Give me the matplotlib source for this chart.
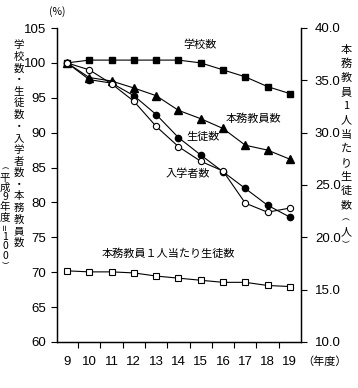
import matplotlib
matplotlib.use("Agg")
import matplotlib.pyplot as plt

plt.rcParams['font.family'] = ['Liberation Sans', 'Noto Sans CJK JP', 'DejaVu Sans']
JP = ['Noto Sans CJK JP', 'DejaVu Sans']

years = [9, 10, 11, 12, 13, 14, 15, 16, 17, 18, 19]

# left axis (平成9年度=100)
schools = [100, 100.4, 100.4, 100.4, 100.4, 100.4, 100.0, 99.0, 98.0, 96.6, 95.6]
teachers = [100, 97.9, 97.4, 96.4, 95.3, 93.2, 92.0, 90.6, 88.2, 87.5, 86.2]
students = [100, 97.6, 97.1, 95.3, 92.6, 89.3, 86.8, 84.4, 82.0, 79.6, 77.9]
entrants = [100, 99.0, 97.0, 94.5, 90.9, 88.0, 85.9, 84.5, 79.9, 78.6, 79.2]

# right axis (人)
per_teacher = [16.8, 16.7, 16.7, 16.6, 16.3, 16.1, 15.9, 15.7, 15.7, 15.4, 15.3]

W, H = 358, 388
fig = plt.figure(figsize=(W / 100, H / 100), dpi=100)
ax = fig.add_axes([57 / W, 1 - 342 / H, 244 / W, 314 / H])
ax2 = ax.twinx()

x = list(range(len(years)))
lw = 0.8
ax.plot(x, schools, color='black', lw=lw, marker='s', ms=5, mfc='black', mec='black')
ax.plot(x, teachers, color='black', lw=lw, marker='^', ms=6, mfc='black', mec='black')
ax.plot(x, students, color='black', lw=lw, marker='o', ms=4.5, mfc='black', mec='black')
ax.plot(x, entrants, color='black', lw=lw, marker='o', ms=4.5, mfc='white', mec='black', mew=0.8)
ax2.plot(x, per_teacher, color='black', lw=lw, marker='s', ms=5, mfc='white', mec='black', mew=0.8)

ax.set_xlim(-0.45, 10.5)
ax.set_ylim(60, 105)
ax2.set_ylim(10, 40)
ax.set_yticks(range(60, 106, 5))
ax2.set_yticks(range(10, 41, 5))
ax2.set_yticklabels(['%.1f' % v for v in range(10, 41, 5)])

ax.set_xticks([i - 0.5 for i in range(1, 11)])
ax.set_xticklabels([])
ax.set_xticks(x, minor=True)
ax.set_xticklabels([str(y) for y in years], minor=True)
ax.tick_params(axis='x', which='major', direction='out', length=4, width=0.8)
ax.tick_params(axis='x', which='minor', length=0, pad=10, labelsize=9.5)
ax.tick_params(axis='y', direction='out', length=4, width=0.8, labelsize=9.5, pad=4)
ax2.tick_params(axis='y', direction='out', length=4, width=0.8, labelsize=9.5, pad=6)

for a in (ax, ax2):
    a.spines['top'].set_visible(False)
    for s in ('left', 'right', 'bottom'):
        a.spines[s].set_linewidth(0.9)

# series labels
fs = 8
ax.text(200 / W, 1 - 45 / H, '学校数', transform=fig.transFigure, ha='center', va='center', fontsize=fs, family=JP)
ax.text(253 / W, 1 - 119 / H, '本務教員数', transform=fig.transFigure, ha='center', va='center', fontsize=fs, family=JP)
ax.text(203 / W, 1 - 137 / H, '生徒数', transform=fig.transFigure, ha='center', va='center', fontsize=fs, family=JP)
ax.text(188 / W, 1 - 174 / H, '入学者数', transform=fig.transFigure, ha='center', va='center', fontsize=fs, family=JP)
ax.text(168 / W, 1 - 254 / H, '本務教員１人当たり生徒数', transform=fig.transFigure, ha='center', va='center', fontsize=fs, family=JP)

fig.text(57 / W, 1 - 12 / H, '(%)', ha='center', va='center', fontsize=7.5, family=JP)
fig.text(325 / W, 1 - 362 / H, '（年度）', ha='center', va='center', fontsize=8, family=JP)


def vtext(s, xpix, ys, size=8):
    # one character per row, vertical writing
    for ch, yp in zip(s, ys):
        rot = 90 if ch == '＝' else 0
        sz = size * 0.7 if ch in '︵︶＝' else size
        fig.text(xpix / W, 1 - yp / H, ch, ha='center', va='center',
                 fontsize=sz, family=JP, rotation=rot)


s1 = '学校数・生徒数・入学者数・本務教員数'
vtext(s1, 19, [45 + i * 11.65 for i in range(len(s1))], size=7.5)
s2 = '︵平成9年度＝100︶'
vtext(s2, 5, [168 + i * 9.8 for i in range(len(s2))], size=7.5)
s3 = '本務教員1人当たり生徒数︵人︶'
vtext(s3, 346, [50 + i * 14.1 for i in range(12)] + [219, 232, 245])

fig.savefig('out.png', dpi=100)
